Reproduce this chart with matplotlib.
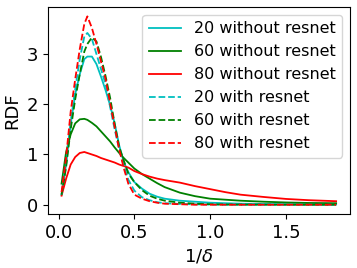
import matplotlib
matplotlib.use("Agg")
import matplotlib.pyplot as plt

x = [0.02, 0.05, 0.08, 0.11, 0.14, 0.17, 0.19, 0.22, 0.25, 0.28, 0.31, 0.34,
     0.37, 0.40, 0.43, 0.46, 0.50, 0.55, 0.60, 0.65, 0.70, 0.80, 0.90, 1.00,
     1.10, 1.20, 1.35, 1.50, 1.65, 1.83]

wo_20 = [0.20, 0.80, 1.60, 2.20, 2.60, 2.90, 2.95, 2.95, 2.80, 2.55, 2.28, 1.98,
         1.62, 1.18, 0.85, 0.65, 0.45, 0.32, 0.22, 0.16, 0.12, 0.08, 0.06, 0.04,
         0.03, 0.02, 0.015, 0.01, 0.008, 0.006]
wo_60 = [0.42, 1.05, 1.40, 1.62, 1.70, 1.71, 1.69, 1.63, 1.56, 1.46, 1.36, 1.26,
         1.14, 1.03, 0.93, 0.84, 0.72, 0.61, 0.52, 0.43, 0.35, 0.24, 0.17, 0.12,
         0.10, 0.08, 0.06, 0.045, 0.035, 0.03]
wo_80 = [0.18, 0.52, 0.80, 0.95, 1.03, 1.05, 1.03, 1.00, 0.97, 0.93, 0.90, 0.87,
         0.84, 0.80, 0.77, 0.74, 0.67, 0.61, 0.56, 0.52, 0.49, 0.44, 0.37, 0.31,
         0.25, 0.20, 0.155, 0.115, 0.09, 0.07]
w_20 = [0.20, 0.85, 1.65, 2.30, 2.90, 3.35, 3.42, 3.30, 3.00, 2.70, 2.40, 1.95,
        1.50, 1.10, 0.78, 0.50, 0.28, 0.15, 0.09, 0.05, 0.03, 0.015, 0.008, 0.004,
        0.0, 0.0, 0.0, 0.0, 0.0, 0.0]
w_60 = [0.20, 0.75, 1.50, 2.10, 2.60, 3.05, 3.20, 3.33, 3.25, 2.94, 2.56, 2.13,
        1.61, 1.15, 0.88, 0.62, 0.45, 0.29, 0.18, 0.12, 0.08, 0.04, 0.02, 0.01,
        0.005, 0.003, 0.002, 0.001, 0.0, 0.0]
w_80 = [0.25, 0.95, 1.85, 2.50, 3.10, 3.60, 3.75, 3.52, 3.20, 2.85, 2.50, 2.02,
        1.55, 1.10, 0.73, 0.42, 0.20, 0.12, 0.07, 0.04, 0.02, 0.01, 0.0, 0.0,
        0.0, 0.0, 0.0, 0.0, 0.0, 0.0]

labels = ["20 without resnet", "60 without resnet", "80 without resnet",
          "20 with resnet", "60 with resnet", "80 with resnet"]

fig, ax = plt.subplots(figsize=(3.57, 2.68), dpi=100)
lw = 1.3
ax.plot(x, wo_20, color="c", lw=lw, label=labels[0])
ax.plot(x, wo_60, color="g", lw=lw, label=labels[1])
ax.plot(x, wo_80, color="r", lw=lw, label=labels[2])
ax.plot(x, w_20, color="c", lw=lw, ls="--", label=labels[3])
ax.plot(x, w_60, color="g", lw=lw, ls="--", label=labels[4])
ax.plot(x, w_80, color="r", lw=lw, ls="--", label=labels[5])

ax.set_xlabel(r"1/$\delta$", fontsize=13)
ax.set_ylabel("RDF", fontsize=13)
ax.tick_params(labelsize=13)
ax.legend(loc="upper right", fontsize=11.5)
fig.subplots_adjust(left=0.134, right=0.980, top=0.974, bottom=0.201)
fig.savefig("out.png", dpi=100)
